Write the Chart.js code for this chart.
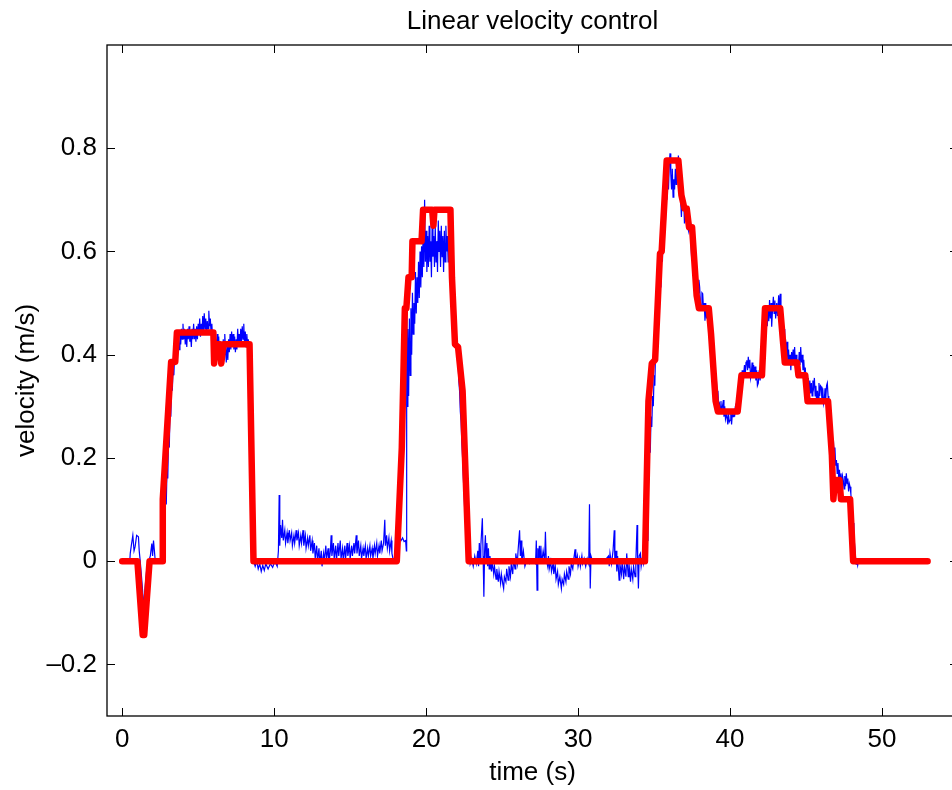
<!DOCTYPE html>
<html>
<head>
<meta charset="utf-8">
<title>Linear velocity control</title>
<script src="https://cdn.jsdelivr.net/npm/chart.js@4.4.1/dist/chart.umd.min.js"></script>
<style>
html, body { margin: 0; padding: 0; background: #fff; overflow: hidden; }
#wrap { width: 960px; height: 790px; }
</style>
</head>
<body>
<div id="wrap"><canvas id="velChart" width="960" height="790"></canvas></div>
<script>
// axis setup
const chartTitle = 'Linear velocity control';
const xTitle = 'time (s)';
const yTitle = 'velocity (m/s)';
const xTicks = [0, 10, 20, 30, 40, 50];
const yTicks = [-0.2, 0, 0.2, 0.4, 0.6, 0.8];
const xRange = [-1, 55];
const yRange = [-0.3, 1.0];

// commanded velocity (red, stepwise)
const commandPts = [[0,0],[1.0,0],[1.35,-0.143],[1.45,-0.143],[1.8,0],[2.62,0],[2.67,0.12],[3.22,0.386],[3.49,0.386],[3.6,0.443],
  [6.0,0.443],[6.05,0.383],[6.2,0.42],[6.45,0.42],[6.52,0.383],[6.67,0.42],[8.38,0.42],[8.64,0],
  [18.07,0],[18.4,0.22],[18.6,0.49],[18.7,0.49],[18.84,0.55],[19.05,0.55],[19.1,0.62],[19.7,0.62],[19.8,0.681],
  [20.4,0.681],[20.48,0.65],[20.55,0.681],[21.6,0.681],[21.7,0.55],[21.9,0.42],[22.1,0.415],[22.4,0.33],[22.8,0],
  [34.4,0],[34.63,0.31],[34.85,0.383],[35.07,0.39],[35.39,0.596],[35.5,0.6],[35.83,0.776],[36.6,0.776],[36.8,0.709],
  [37.0,0.683],[37.15,0.683],[37.3,0.647],[37.5,0.647],[37.8,0.515],[37.95,0.49],[38.6,0.49],[38.75,0.44],[39.05,0.31],
  [39.2,0.29],[40.5,0.29],[40.75,0.36],[42.1,0.36],[42.3,0.49],[43.3,0.49],[43.5,0.42],[43.6,0.385],[44.4,0.385],
  [44.5,0.36],[44.95,0.36],[45.1,0.31],[46.45,0.31],[46.7,0.205],[46.8,0.12],[46.9,0.157],[47.2,0.157],[47.3,0.12],
  [47.9,0.12],[48.1,0],[53,0]];

// measured velocity (blue), split by phase
const measuredStart = [[0.5,0.0],[0.53,0.015],[0.6,0.03],[0.7,0.05],[0.78,0.02],[0.85,0.028],[0.95,0.05],[1.07,0.047],
  [1.12,0.02],[1.18,0.002],[1.29,-0.037],[1.35,-0.06],[1.4,-0.105],[1.45,-0.07],[1.51,-0.05],[1.6,-0.02],[1.67,-0.011],
  [1.75,0.0],[1.85,0.01],[1.95,0.034],[2.0,0.01],[2.06,0.04],[2.12,0.02],[2.17,0.002],[2.3,0.0],[2.45,-0.003],[2.6,0.002]];

const measuredRun1 = [[2.68,0.03],[2.72,0.08],[2.78,0.06],[2.85,0.13],[2.9,0.11],[2.95,0.18],[3.0,0.16],[3.05,0.24],
  [3.1,0.22],[3.15,0.3],[3.2,0.28],[3.25,0.35],[3.3,0.33],[3.35,0.38],[3.4,0.36],[3.45,0.4],[3.5,0.38],[3.55,0.42],
  [3.6,0.4],[3.7,0.43],[3.75,0.41],[3.8,0.44],[3.85,0.42],[3.9,0.45],[3.95,0.43],[4.0,0.46],[4.05,0.43],[4.1,0.45],
  [4.15,0.42],[4.2,0.44],[4.25,0.415],[4.3,0.45],[4.35,0.43],[4.4,0.455],[4.45,0.425],[4.5,0.44],[4.55,0.415],[4.6,0.45],
  [4.65,0.43],[4.7,0.46],[4.75,0.43],[4.8,0.45],[4.85,0.425],[4.9,0.455],[4.95,0.43],[5.0,0.46],[5.05,0.44],[5.1,0.47],
  [5.15,0.435],[5.2,0.46],[5.25,0.44],[5.3,0.475],[5.35,0.445],[5.4,0.48],[5.45,0.45],[5.5,0.47],[5.55,0.44],[5.6,0.465],
  [5.65,0.45],[5.7,0.485],[5.75,0.455],[5.8,0.47],[5.85,0.44],[5.9,0.46],[5.95,0.43],[6.0,0.415],[6.05,0.435],[6.1,0.405],
  [6.15,0.43],[6.2,0.4],[6.25,0.44],[6.3,0.41],[6.35,0.435],[6.4,0.4],[6.45,0.425],[6.5,0.39],[6.55,0.42],[6.6,0.395],
  [6.65,0.43],[6.7,0.4],[6.75,0.44],[6.8,0.41],[6.85,0.385],[6.9,0.42],[6.95,0.39],[7.0,0.43],[7.05,0.405],[7.1,0.44],
  [7.15,0.41],[7.2,0.445],[7.25,0.42],[7.3,0.44],[7.35,0.41],[7.4,0.435],[7.45,0.405],[7.5,0.43],[7.55,0.41],[7.6,0.45],
  [7.65,0.42],[7.7,0.44],[7.75,0.415],[7.8,0.45],[7.85,0.425],[7.9,0.455],[7.95,0.43],[8.0,0.46],[8.05,0.42],[8.1,0.445],
  [8.15,0.415],[8.2,0.44],[8.25,0.42],[8.3,0.43],[8.35,0.4],[8.4,0.36],[8.45,0.28],[8.5,0.19],[8.55,0.1],[8.6,0.03],[8.65,0.0]];

const measuredIdle1 = [[8.75,-0.01],[8.85,0.0],[8.95,-0.015],[9.05,-0.005],[9.15,-0.02],[9.25,-0.008],[9.35,-0.018],
  [9.45,-0.005],[9.6,-0.015],[9.75,-0.005],[9.9,-0.012],[10.05,0.0],[10.2,-0.01],[10.28,0.02],[10.33,0.128],[10.37,0.03],
  [10.42,0.07],[10.5,0.045],[10.55,0.08],[10.6,0.04],[10.7,0.06],[10.75,0.035],[10.85,0.055],[10.9,0.035],[11.0,0.06],
  [11.05,0.04],[11.15,0.055],[11.2,0.03],[11.3,0.05],[11.35,0.035],[11.45,0.06],[11.5,0.04],[11.6,0.055],[11.65,0.03],
  [11.75,0.05],[11.8,0.035],[11.9,0.06],[11.95,0.03],[12.05,0.05],[12.1,0.025],[12.2,0.045],[12.25,0.03],[12.35,0.05],
  [12.4,0.02],[12.5,0.04],[12.55,0.015],[12.65,0.035],[12.7,0.005],[12.8,0.03],[12.85,0.0],[12.95,0.025],[13.0,-0.005],
  [13.1,0.02],[13.15,-0.01],[13.25,0.015],[13.3,0.0],[13.4,0.03],[13.45,0.005],[13.55,0.025],[13.6,-0.005],[13.7,0.02],
  [13.75,0.05],[13.8,0.01],[13.9,0.035],[13.95,0.005],[14.05,0.03],[14.1,0.0],[14.2,0.035],[14.25,0.01],[14.35,0.04],
  [14.4,0.005],[14.5,0.025],[14.55,0.0],[14.65,0.03],[14.7,0.005],[14.8,0.035],[14.85,0.01],[14.95,0.03],[15.0,0.005],
  [15.1,0.03],[15.15,0.01],[15.25,0.035],[15.3,0.015],[15.4,0.05],[15.45,0.015],[15.55,0.04],[15.6,0.01],[15.7,0.03],
  [15.75,0.005],[15.85,0.025],[15.9,0.01],[16.0,0.03],[16.05,0.005],[16.15,0.025],[16.2,0.01],[16.3,0.03],[16.35,0.01],
  [16.45,0.025],[16.5,0.005],[16.6,0.03],[16.65,0.015],[16.75,0.035],[16.8,0.01],[16.9,0.03],[16.95,0.015],[17.05,0.04],
  [17.1,0.02],[17.2,0.035],[17.28,0.08],[17.32,0.03],[17.4,0.05],[17.45,0.025],[17.55,0.045],[17.6,0.02],[17.7,0.04],
  [17.75,0.015],[17.85,0.0],[17.95,0.005],[18.05,0.0],[18.15,0.03],[18.25,0.045],[18.35,0.04],[18.45,0.045],[18.55,0.038],
  [18.65,0.04],[18.7,0.02]];

const measuredRun2 = [[18.72,0.53],[18.76,0.3],[18.8,0.45],[18.85,0.32],[18.9,0.47],[18.95,0.36],[19.0,0.49],[19.05,0.4],
  [19.1,0.52],[19.15,0.44],[19.2,0.5],[19.25,0.46],[19.3,0.56],[19.35,0.48],[19.4,0.55],[19.45,0.5],[19.5,0.58],
  [19.55,0.51],[19.6,0.6],[19.65,0.53],[19.7,0.61],[19.75,0.55],[19.8,0.64],[19.85,0.57],[19.9,0.70],[19.95,0.58],
  [20.0,0.64],[20.05,0.56],[20.1,0.63],[20.15,0.57],[20.2,0.65],[20.25,0.58],[20.3,0.62],[20.35,0.55],[20.4,0.66],
  [20.45,0.59],[20.5,0.63],[20.55,0.57],[20.6,0.65],[20.65,0.58],[20.7,0.62],[20.75,0.56],[20.8,0.66],[20.85,0.6],
  [20.9,0.64],[20.95,0.57],[21.0,0.65],[21.05,0.59],[21.1,0.63],[21.15,0.56],[21.2,0.64],[21.25,0.58],[21.3,0.65],
  [21.35,0.6],[21.4,0.63],[21.45,0.58],[21.5,0.64],[21.55,0.6],[21.6,0.62],[21.7,0.6],[21.75,0.55],[21.8,0.56],
  [21.85,0.5],[21.9,0.48],[21.95,0.44],[22.0,0.43],[22.05,0.4],[22.1,0.39],[22.15,0.35],[22.2,0.33],[22.25,0.29],
  [22.3,0.27],[22.35,0.23],[22.4,0.2],[22.45,0.16],[22.5,0.13],[22.55,0.09],[22.6,0.07],[22.65,0.04],[22.7,0.02],
  [22.75,0.03],[22.8,0.0],[22.85,0.02],[22.9,-0.005]];

const measuredIdle2 = [[23.0,0.005],[23.1,-0.01],[23.2,0.01],[23.3,-0.005],[23.4,0.02],[23.45,-0.01],[23.5,0.035],
  [23.55,0.0],[23.6,0.03],[23.7,0.083],[23.75,0.01],[23.8,-0.069],[23.85,0.02],[23.9,0.05],[23.95,0.0],[24.0,0.035],
  [24.05,-0.01],[24.1,0.025],[24.15,-0.015],[24.2,0.01],[24.3,-0.02],[24.35,0.0],[24.45,-0.025],[24.5,-0.01],[24.6,-0.035],
  [24.65,-0.015],[24.75,-0.04],[24.8,-0.02],[24.9,-0.043],[24.95,-0.025],[25.05,-0.045],[25.1,-0.053],[25.15,-0.03],
  [25.25,-0.04],[25.3,-0.015],[25.4,-0.037],[25.45,-0.01],[25.55,-0.03],[25.6,-0.005],[25.7,-0.025],[25.75,0.005],
  [25.85,-0.015],[25.9,0.015],[26.0,-0.005],[26.05,0.02],[26.15,0.06],[26.2,0.01],[26.25,0.04],[26.3,0.0],[26.4,0.02],
  [26.5,-0.01],[26.6,0.0],[26.8,-0.005],[27.0,0.0],[27.2,-0.005],[27.25,0.04],[27.3,-0.056],[27.35,0.025],[27.4,0.0],
  [27.45,0.03],[27.5,0.005],[27.55,0.03],[27.6,-0.005],[27.7,0.02],[27.8,0.0],[27.85,0.057],[27.9,0.005],[28.0,-0.01],
  [28.05,0.01],[28.1,-0.015],[28.2,0.0],[28.25,-0.02],[28.35,-0.005],[28.4,-0.025],[28.5,-0.01],[28.55,-0.035],
  [28.65,-0.02],[28.7,-0.045],[28.8,-0.03],[28.9,-0.053],[28.95,-0.035],[29.05,-0.045],[29.1,-0.025],[29.2,-0.04],
  [29.25,-0.02],[29.35,-0.035],[29.4,-0.01],[29.5,-0.025],[29.55,-0.005],[29.65,-0.015],[29.7,0.0],[29.8,0.023],
  [29.85,-0.005],[29.95,0.01],[30.0,-0.01],[30.1,0.005],[30.15,-0.01],[30.25,0.01],[30.3,-0.005],[30.4,0.005],
  [30.5,-0.01],[30.6,0.005],[30.7,-0.005],[30.75,0.11],[30.8,-0.053],[30.85,0.01],[30.95,0.0],[31.2,0.002],[31.5,0.0],
  [31.8,0.003],[32.0,0.01],[32.05,-0.01],[32.1,0.015],[32.2,-0.005],[32.3,0.02],[32.38,0.06],[32.42,0.0],[32.5,0.02],
  [32.55,-0.02],[32.6,0.01],[32.7,-0.037],[32.75,-0.005],[32.85,-0.025],[32.9,0.0],[33.0,-0.035],[33.05,-0.01],
  [33.15,-0.03],[33.2,0.015],[33.3,-0.03],[33.35,-0.005],[33.45,-0.04],[33.5,-0.015],[33.6,-0.035],[33.65,-0.01],
  [33.75,-0.03],[33.8,0.0],[33.88,0.07],[33.92,0.0],[33.97,-0.053],[34.02,0.01],[34.1,0.015],[34.15,-0.01],[34.25,0.01],
  [34.3,-0.005],[34.4,0.01],[34.5,0.0]];

const measuredRun3 = [[34.55,0.04],[34.6,0.12],[34.65,0.17],[34.7,0.235],[34.75,0.21],[34.8,0.28],[34.85,0.26],[34.9,0.32],
  [34.95,0.3],[35.0,0.36],[35.05,0.34],[35.1,0.41],[35.15,0.39],[35.2,0.45],[35.25,0.43],[35.3,0.5],[35.35,0.48],
  [35.4,0.557],[35.45,0.53],[35.5,0.6],[35.55,0.58],[35.6,0.654],[35.65,0.62],[35.7,0.69],[35.75,0.66],[35.8,0.73],
  [35.85,0.7],[35.9,0.75],[35.95,0.72],[36.0,0.77],[36.05,0.79],[36.1,0.75],[36.15,0.72],[36.2,0.76],[36.25,0.705],
  [36.3,0.74],[36.35,0.72],[36.4,0.76],[36.45,0.73],[36.5,0.78],[36.55,0.75],[36.6,0.786],[36.65,0.74],[36.7,0.718],
  [36.75,0.7],[36.8,0.667],[36.85,0.71],[36.9,0.69],[36.95,0.7],[37.0,0.654],[37.05,0.69],[37.1,0.67],[37.15,0.686],
  [37.2,0.65],[37.26,0.641],[37.3,0.665],[37.37,0.654],[37.42,0.62],[37.47,0.589],[37.52,0.61],[37.58,0.557],[37.63,0.585],
  [37.7,0.57],[37.75,0.54],[37.8,0.525],[37.85,0.55],[37.9,0.52],[37.95,0.545],[38.0,0.531],[38.05,0.5],[38.1,0.486],
  [38.15,0.52],[38.2,0.518],[38.25,0.49],[38.3,0.5],[38.35,0.466],[38.4,0.5],[38.45,0.47],[38.5,0.486],[38.55,0.46],
  [38.6,0.475],[38.65,0.44],[38.7,0.454],[38.75,0.42],[38.8,0.43],[38.85,0.395],[38.9,0.402],[38.95,0.37],[39.0,0.364],
  [39.05,0.34],[39.1,0.351],[39.15,0.32],[39.2,0.33],[39.25,0.3],[39.3,0.305],[39.35,0.29],[39.4,0.31],[39.45,0.285],
  [39.5,0.3],[39.56,0.312],[39.6,0.28],[39.65,0.3],[39.7,0.275],[39.78,0.286],[39.85,0.265],[39.9,0.285],[39.95,0.27],
  [40.0,0.273],[40.05,0.29],[40.1,0.265],[40.15,0.285],[40.2,0.28],[40.25,0.295],[40.3,0.28],[40.35,0.3],[40.4,0.305],
  [40.45,0.32],[40.5,0.31],[40.55,0.335],[40.6,0.32],[40.66,0.338],[40.7,0.36],[40.75,0.345],[40.8,0.37],[40.85,0.35],
  [40.9,0.364],[40.95,0.38],[41.0,0.36],[41.05,0.385],[41.1,0.389],[41.15,0.37],[41.2,0.396],[41.25,0.375],[41.3,0.39],
  [41.35,0.355],[41.4,0.364],[41.45,0.385],[41.5,0.36],[41.55,0.38],[41.6,0.365],[41.65,0.377],[41.7,0.35],[41.75,0.37],
  [41.8,0.34],[41.86,0.345],[41.92,0.37],[41.98,0.35],[42.05,0.389],[42.1,0.37],[42.15,0.42],[42.2,0.454],[42.25,0.43],
  [42.3,0.47],[42.35,0.45],[42.4,0.48],[42.45,0.455],[42.5,0.49],[42.55,0.465],[42.6,0.506],[42.65,0.47],[42.7,0.5],
  [42.74,0.454],[42.8,0.49],[42.85,0.512],[42.9,0.48],[42.95,0.505],[43.0,0.47],[43.07,0.5],[43.12,0.475],[43.2,0.515],
  [43.25,0.48],[43.3,0.518],[43.35,0.47],[43.4,0.454],[43.45,0.47],[43.5,0.428],[43.55,0.45],[43.6,0.42],[43.65,0.43],
  [43.7,0.402],[43.75,0.425],[43.8,0.39],[43.85,0.41],[43.9,0.38],[43.95,0.4],[44.0,0.37],[44.05,0.405],[44.1,0.385],
  [44.15,0.41],[44.2,0.39],[44.25,0.415],[44.3,0.38],[44.35,0.4],[44.4,0.364],[44.45,0.39],[44.5,0.375],[44.55,0.405],
  [44.6,0.38],[44.65,0.415],[44.7,0.385],[44.75,0.4],[44.8,0.37],[44.85,0.39],[44.9,0.364],[44.95,0.375],[45.0,0.345],
  [45.05,0.36],[45.1,0.338],[45.15,0.355],[45.2,0.33],[45.25,0.35],[45.3,0.325],[45.35,0.345],[45.4,0.32],[45.45,0.35],
  [45.5,0.338],[45.55,0.355],[45.6,0.32],[45.65,0.34],[45.7,0.305],[45.75,0.33],[45.8,0.315],[45.85,0.345],[45.9,0.32],
  [45.95,0.34],[46.0,0.338],[46.05,0.31],[46.1,0.335],[46.15,0.305],[46.2,0.312],[46.25,0.335],[46.3,0.315],[46.35,0.34],
  [46.4,0.345],[46.45,0.32],[46.5,0.3],[46.55,0.28],[46.6,0.273],[46.65,0.25],[46.7,0.255],[46.75,0.22],[46.8,0.235],
  [46.85,0.2],[46.9,0.22],[46.95,0.185],[47.0,0.196],[47.05,0.17],[47.1,0.19],[47.15,0.16],[47.2,0.177],[47.25,0.15],
  [47.3,0.17],[47.35,0.145],[47.4,0.165],[47.45,0.157],[47.5,0.14],[47.55,0.165],[47.6,0.145],[47.65,0.17],[47.7,0.15],
  [47.75,0.16],[47.8,0.135],[47.85,0.15],[47.9,0.144],[47.95,0.13],[48.0,0.11],[48.05,0.09],[48.1,0.074],[48.15,0.05],
  [48.2,0.03],[48.25,0.01],[48.3,-0.006],[48.35,0.003],[48.4,-0.008],[48.45,0.0]];

const measuredPts = [...measuredStart, ...measuredRun1, ...measuredIdle1, ...measuredRun2, ...measuredIdle2, ...measuredRun3];

const fontFamily = '"Liberation Sans", Arial, Helvetica, sans-serif';
const labelFont = { family: fontFamily, size: 26 };

function toXY(pairs) {
    return pairs.map(p => ({ x: p[0], y: p[1] }));
}

function formatY(v) {
    if (v === 0) return '0';
    if (v < 0) return '\u2013' + Math.abs(v).toFixed(1);
    return v.toFixed(1);
}

// MATLAB style box with ticks pointing inward on all four sides
const axesBox = {
    id: 'axesBox',
    afterDatasetsDraw(chart) {
        const { ctx, chartArea: a, scales } = chart;
        const tick = 8;
        ctx.save();
        ctx.strokeStyle = '#000';
        ctx.lineWidth = 1.3;
        ctx.strokeRect(a.left, a.top, a.right - a.left, a.bottom - a.top);
        ctx.lineWidth = 1;
        ctx.beginPath();
        xTicks.forEach(v => {
            const px = Math.round(scales.x.getPixelForValue(v)) + 0.5;
            ctx.moveTo(px, a.bottom); ctx.lineTo(px, a.bottom - tick);
            ctx.moveTo(px, a.top); ctx.lineTo(px, a.top + tick);
        });
        yTicks.forEach(v => {
            const py = Math.round(scales.y.getPixelForValue(v)) + 0.5;
            ctx.moveTo(a.left, py); ctx.lineTo(a.left + tick, py);
            ctx.moveTo(a.right, py); ctx.lineTo(a.right - tick, py);
        });
        ctx.stroke();
        ctx.restore();
    }
};

// title centred over the axes, not the canvas
const axesTitle = {
    id: 'axesTitle',
    afterDraw(chart) {
        const { ctx, chartArea: a } = chart;
        ctx.save();
        ctx.font = '26px ' + fontFamily;
        ctx.fillStyle = '#000';
        ctx.textAlign = 'center';
        ctx.textBaseline = 'alphabetic';
        ctx.fillText(chartTitle, (a.left + a.right) / 2, 29);
        ctx.restore();
    }
};

const ctx = document.getElementById('velChart').getContext('2d');

new Chart(ctx, {
    type: 'line',
    data: {
        datasets: [{
            label: 'command',
            data: toXY(commandPts),
            borderColor: '#ff0000',
            borderWidth: 6.5,
            borderJoinStyle: 'round',
            borderCapStyle: 'round',
            pointRadius: 0,
            tension: 0,
            order: 0
        }, {
            label: 'measured',
            data: toXY(measuredPts),
            borderColor: '#0000ff',
            borderWidth: 1.2,
            pointRadius: 0,
            tension: 0,
            order: 1
        }]
    },
    options: {
        responsive: false,
        animation: false,
        events: [],
        layout: { padding: { top: 45, right: 2, left: 0, bottom: 0 } },
        plugins: {
            legend: { display: false },
            tooltip: { enabled: false },
            title: { display: false }
        },
        scales: {
            x: {
                type: 'linear',
                min: xRange[0],
                max: xRange[1],
                grid: { display: false, drawTicks: false },
                border: { display: false },
                afterBuildTicks: s => { s.ticks = xTicks.map(v => ({ value: v })); },
                afterFit: s => { s.height = 74; },
                ticks: {
                    font: labelFont,
                    color: '#000',
                    padding: 8,
                    maxRotation: 0,
                    autoSkip: false,
                    callback: v => String(v)
                },
                title: {
                    display: true,
                    text: xTitle,
                    font: labelFont,
                    color: '#000',
                    padding: { top: 0, bottom: 2 }
                }
            },
            y: {
                type: 'linear',
                min: yRange[0],
                max: yRange[1],
                grid: { display: false, drawTicks: false },
                border: { display: false },
                afterBuildTicks: s => { s.ticks = yTicks.map(v => ({ value: v })); },
                afterFit: s => { s.width = 107; },
                ticks: {
                    font: labelFont,
                    color: '#000',
                    padding: 10,
                    autoSkip: false,
                    callback: v => formatY(v)
                },
                title: {
                    display: true,
                    text: yTitle,
                    font: labelFont,
                    color: '#000',
                    padding: { top: 11, bottom: 0 }
                }
            }
        }
    },
    plugins: [axesBox, axesTitle]
});
</script>
</body>
</html>
